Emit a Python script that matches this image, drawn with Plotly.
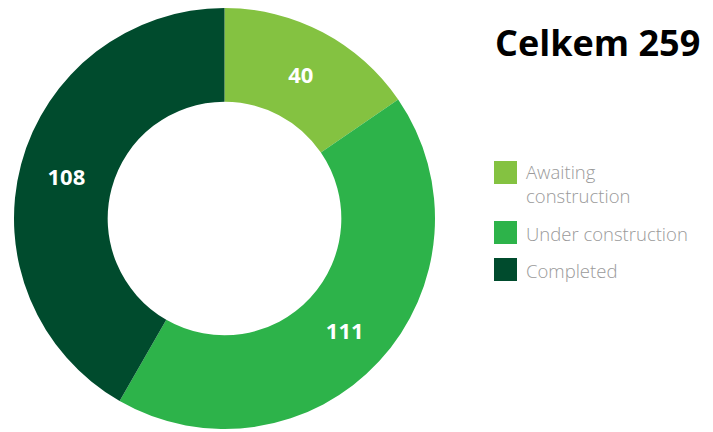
import plotly.graph_objects as go

labels = ["Awaiting construction", "Under construction", "Completed"]
legend_text = ["Awaiting<br>construction", "Under construction", "Completed"]
values = [40, 111, 108]
colors = ["#84C241", "#2DB34A", "#004B2D"]
title_text = "Celkem 259"

W, H = 713, 432
OFF = 8  # page body margin offset


def px(x):
    return (x - OFF) / W


def py(y):
    return min(1.0, 1 - (y - OFF) / H)


fig = go.Figure()
fig.add_trace(go.Pie(
    labels=labels,
    values=values,
    hole=0.555,
    sort=False,
    direction="clockwise",
    rotation=0,
    marker=dict(colors=colors, line=dict(color="white", width=0)),
    textinfo="value",
    textposition="inside",
    insidetextorientation="horizontal",
    textfont=dict(family="Open Sans", size=22, color="white", weight="bold"),
    domain=dict(x=[px(14), px(435)], y=[py(429), py(8)]),
    showlegend=False,
    hoverinfo="label+value",
))

# Title
fig.add_annotation(
    x=px(493), y=py(42), xref="paper", yref="paper",
    xanchor="left", yanchor="middle", showarrow=False,
    text="<b>" + title_text + "</b>",
    font=dict(family="Open Sans", size=36, color="#000000"),
)

# Custom legend
sq_tops = [161, 221, 258]
text_y = [183, 233, 270]
for i, (lab, col) in enumerate(zip(legend_text, colors)):
    t = sq_tops[i]
    fig.add_shape(
        type="rect", xref="paper", yref="paper",
        x0=px(494), x1=px(517), y0=py(t + 23), y1=py(t),
        fillcolor=col, line=dict(width=0),
    )
    fig.add_annotation(
        x=px(524), y=py(text_y[i]), xref="paper", yref="paper",
        xanchor="left", yanchor="middle", showarrow=False, align="left",
        text=lab,
        font=dict(family="Open Sans", size=18.5, color="#9A9A9A", weight=300),
    )

fig.update_layout(
    width=W, height=H,
    margin=dict(l=0, r=0, t=0, b=0),
    paper_bgcolor="white",
    plot_bgcolor="white",
)

fig.write_html("out.html")
